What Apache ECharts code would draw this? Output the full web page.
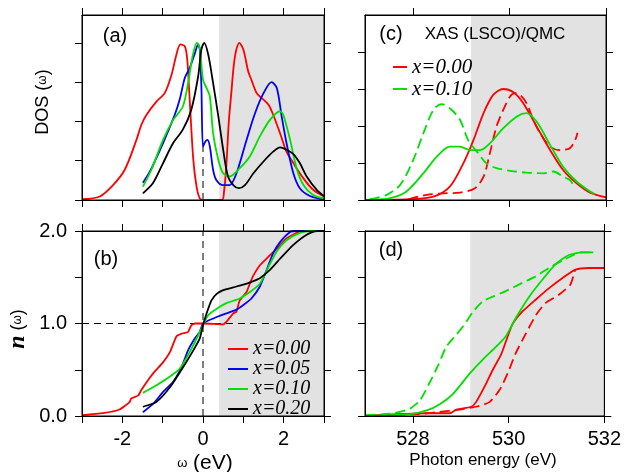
<!DOCTYPE html>
<html><head><meta charset="utf-8">
<script src="https://cdn.jsdelivr.net/npm/echarts@6/dist/echarts.min.js"></script>
<style>html,body{margin:0;padding:0;background:#fff}#c{width:624px;height:472px}</style>
</head><body><div id="c"></div>
<script>
// ---------- data ----------
const omegaTicks = [-3, -2, -1, 0, 1, 2, 3];
const omegaLabels = [-2, 0, 2];
const energyTicks = [528, 530, 532];
const dosTicks = [0, 1, 2, 3, 4];
const nLabels = [0, 1, 2];
const xasTicks = [0, 1, 2, 3, 4];
const shadeOmega = [0.4, 3];
const shadeEnergy = [529.2, 532];
const fermiDash = [[0, 0], [0, 1.45]];
const fermiDashB = [[0, 0], [0, 2]];
const halfFillDash = [[-3, 1], [3, 1]];

// (a) DOS
const dos000 = [[-3,0.02],[-2.56,0.09],[-2.23,0.38],[-1.94,0.77],[-1.65,1.53],[-1.53,1.91],[-1.40,2.17],[-1.15,2.51],[-0.95,2.72],[-0.78,3.19],[-0.66,3.70],[-0.56,3.96],[-0.45,3.91],[-0.39,3.57],[-0.33,2.55],[-0.24,1.02],[-0.16,0.34],[-0.08,0.04],[0,0],[0.47,0],[0.52,0.2],[0.58,0.9],[0.64,2.0],[0.70,2.7],[0.76,3.4],[0.82,3.8],[0.90,4.0],[1.00,3.83],[1.12,3.28],[1.20,3.06],[1.33,2.72],[1.45,2.60],[1.62,2.43],[1.74,2.17],[1.91,1.70],[2.07,1.23],[2.24,0.94],[2.49,0.55],[2.73,0.26],[3.0,0.09]];
const dos005 = [[-1.49,0.44],[-1.32,0.72],[-0.99,1.45],[-0.70,2.17],[-0.58,2.55],[-0.45,3.11],[-0.33,3.36],[-0.20,3.74],[-0.12,3.96],[-0.08,3.83],[-0.04,2.89],[0.0,1.36],[0.06,1.49],[0.11,1.53],[0.17,1.36],[0.25,0.77],[0.33,0.51],[0.50,0.38],[0.66,0.38],[0.83,0.68],[1.08,1.53],[1.29,2.21],[1.50,2.72],[1.70,3.0],[1.83,2.85],[1.95,2.13],[2.07,1.45],[2.24,0.68],[2.40,0.30],[2.65,0.10],[2.90,0.03],[3.0,0.02]];
const dos010 = [[-1.49,0.34],[-1.28,0.77],[-0.99,1.53],[-0.74,2.04],[-0.50,2.38],[-0.37,2.98],[-0.25,3.70],[-0.15,4.0],[-0.08,3.87],[0.0,3.06],[0.09,2.85],[0.17,2.64],[0.25,1.70],[0.38,1.02],[0.50,0.68],[0.66,0.60],[0.91,0.81],[1.16,1.11],[1.41,1.62],[1.66,2.04],[1.91,2.26],[1.99,2.17],[2.16,1.53],[2.32,0.81],[2.49,0.38],[2.73,0.13],[3.0,0.04]];
const dos020 = [[-1.49,0.17],[-1.24,0.43],[-0.99,0.94],[-0.74,1.45],[-0.50,1.79],[-0.29,2.30],[-0.12,3.15],[-0.04,3.83],[0.03,4.0],[0.13,3.70],[0.25,2.98],[0.38,2.13],[0.50,1.28],[0.62,0.60],[0.75,0.38],[0.89,0.30],[1.04,0.38],[1.25,0.68],[1.50,0.98],[1.74,1.23],[1.91,1.34],[2.07,1.28],[2.24,1.17],[2.40,0.94],[2.57,0.60],[2.82,0.26],[3.0,0.10]];

// (b) n(omega)
const n000 = [[-3,0.01],[-2.48,0.03],[-2.07,0.07],[-1.82,0.15],[-1.78,0.19],[-1.61,0.22],[-1.53,0.28],[-1.36,0.39],[-1.20,0.48],[-0.99,0.58],[-0.82,0.69],[-0.66,0.86],[-0.53,0.89],[-0.37,0.91],[-0.29,0.98],[-0.20,1.0],[0.0,1.0],[0.5,0.99],[0.62,1.04],[0.75,1.11],[0.83,1.13],[0.91,1.25],[1.08,1.34],[1.16,1.43],[1.25,1.52],[1.41,1.63],[1.62,1.72],[1.83,1.81],[2.07,1.92],[2.32,1.98],[2.57,2.0],[3.0,2.0]];
const n005 = [[-1.49,0.04],[-1.24,0.13],[-0.99,0.26],[-0.74,0.37],[-0.53,0.53],[-0.37,0.71],[-0.20,0.84],[-0.08,0.91],[0.0,1.0],[0.17,1.04],[0.34,1.07],[0.58,1.11],[0.83,1.15],[1.0,1.20],[1.20,1.27],[1.41,1.40],[1.58,1.58],[1.74,1.76],[1.91,1.88],[2.16,1.99],[2.32,2.0],[3.0,2.0]];
const n010 = [[-1.49,0.25],[-1.24,0.31],[-0.91,0.40],[-0.58,0.51],[-0.33,0.69],[-0.12,0.87],[0,0.98],[0.13,1.09],[0.34,1.16],[0.58,1.22],[0.91,1.27],[1.16,1.34],[1.41,1.43],[1.62,1.61],[1.83,1.78],[2.07,1.90],[2.40,1.98],[2.65,2.0],[3.0,2.0]];
const n020 = [[-1.49,0.10],[-1.16,0.15],[-0.82,0.31],[-0.49,0.53],[-0.24,0.71],[-0.08,0.84],[0,0.98],[0.09,1.11],[0.21,1.25],[0.34,1.32],[0.50,1.36],[0.75,1.39],[1.0,1.42],[1.20,1.45],[1.41,1.49],[1.66,1.58],[1.91,1.70],[2.24,1.85],[2.57,1.96],[2.82,2.0],[3.0,2.0]];

// (c) XAS
const xasQmc000 = [[527,0],[527.93,0.02],[528.42,0.09],[528.76,0.36],[529.04,0.99],[529.25,1.62],[529.46,2.35],[529.66,2.84],[529.87,3.0],[530.08,2.91],[530.28,2.62],[530.56,1.99],[530.84,1.35],[531.11,0.81],[531.39,0.45],[531.67,0.20],[532,0.07]];
const xasExp000 = [[527.9,0.02],[528.28,0.14],[528.63,0.18],[528.97,0.20],[529.28,0.32],[529.46,0.63],[529.59,1.26],[529.73,1.99],[529.87,2.44],[530.01,2.80],[530.11,2.89],[530.22,2.84],[530.35,2.62],[530.49,2.17],[530.63,1.81],[530.84,1.44],[531.05,1.35],[531.25,1.40],[531.36,1.62],[531.41,1.82]];
const xasQmc010 = [[527,0],[527.52,0.05],[527.86,0.23],[528.21,0.72],[528.49,1.17],[528.76,1.44],[528.97,1.44],[529.18,1.35],[529.39,1.35],[529.59,1.53],[529.87,1.94],[530.15,2.26],[530.35,2.35],[530.56,2.12],[530.84,1.49],[531.11,0.90],[531.39,0.50],[531.67,0.23],[531.77,0.16]];
const xasExp010 = [[527.1,0.02],[527.45,0.14],[527.73,0.41],[528.0,1.08],[528.21,1.80],[528.42,2.44],[528.59,2.59],[528.76,2.48],[528.97,2.17],[529.14,1.62],[529.35,1.26],[529.52,0.99],[529.73,0.86],[530.01,0.79],[530.35,0.74],[530.70,0.72],[530.91,0.77],[531.11,0.63],[531.25,0.54],[531.32,0.41]];

// (d) integrated XAS
const intQmc000 = [[527,0],[528.29,0.03],[528.77,0.03],[528.91,0.07],[529.22,0.10],[529.32,0.15],[529.53,0.35],[529.67,0.50],[529.84,0.66],[529.94,0.80],[530.08,0.99],[530.29,1.13],[530.57,1.26],[530.84,1.38],[531.12,1.49],[531.39,1.58],[531.67,1.60],[532,1.60]];
const intExp000 = [[527,0],[528.08,0.02],[528.50,0.04],[528.98,0.07],[529.32,0.10],[529.60,0.15],[529.81,0.28],[529.98,0.46],[530.15,0.68],[530.36,0.89],[530.57,1.09],[530.77,1.22],[531.05,1.31],[531.29,1.42],[531.39,1.58]];
const intQmc010 = [[527,0],[527.94,0.02],[528.29,0.06],[528.57,0.13],[528.84,0.24],[529.19,0.46],[529.46,0.61],[529.74,0.75],[529.94,0.86],[530.15,1.06],[530.43,1.29],[530.70,1.47],[530.98,1.64],[531.26,1.74],[531.53,1.77],[531.77,1.77]];
const intExp010 = [[527.01,0.01],[527.6,0.03],[527.94,0.08],[528.15,0.17],[528.36,0.37],[528.53,0.55],[528.70,0.75],[528.91,0.88],[529.08,0.99],[529.26,1.13],[529.46,1.24],[529.67,1.29],[529.94,1.35],[530.29,1.44],[530.57,1.51],[530.84,1.60],[531.12,1.68],[531.39,1.75],[531.53,1.77],[531.77,1.77]];

// ---------- styling ----------
const SANS = '"Liberation Sans", Arial, sans-serif';
const SERIF = '"Liberation Serif", "Times New Roman", serif';
const RED = '#ff0000', BLUE = '#0000ff', GREEN = '#00e000', BLACK = '#000000';
const GRAY = '#e2e2e2';

function gridBox(left, top, width, height) {
  return {left: left, top: top, width: width, height: height, z: 10,
    show: true, borderColor: '#000', borderWidth: 1, backgroundColor: 'transparent'};
}
const grids = [
  gridBox(82, 15, 242, 185),
  gridBox(82, 231, 242, 185),
  gridBox(365, 15, 241, 185),
  gridBox(365, 231, 241, 185)
];

function ax(type, grid, pos, min, max, ticks, labels, fmt) {
  const a = {
    type: 'value', gridIndex: grid, position: pos, min: min, max: max, z: 10,
    axisLine: {show: true, onZero: false, lineStyle: {color: '#000', width: 1}},
    axisTick: {show: true, inside: false, length: 7, lineStyle: {color: '#000', width: 1}, customValues: ticks},
    axisLabel: {show: false},
    splitLine: {show: false}
  };
  if (labels) {
    a.axisLabel = {show: true, customValues: labels, color: '#000', fontFamily: SANS, fontSize: 20,
      margin: type === 'x' ? 13 : 15, formatter: fmt || (v => String(v))};
  }
  return a;
}

const xAxes = [
  ax('x', 0, 'bottom', -3, 3, omegaTicks),
  ax('x', 0, 'top', -3, 3, omegaTicks),
  ax('x', 1, 'bottom', -3, 3, omegaTicks, omegaLabels, v => (v < 0 ? '-' : '') + Math.abs(v)),
  ax('x', 1, 'top', -3, 3, omegaTicks),
  ax('x', 2, 'bottom', 527, 532, energyTicks),
  ax('x', 2, 'top', 527, 532, energyTicks),
  ax('x', 3, 'bottom', 527, 532, energyTicks, energyTicks),
  ax('x', 3, 'top', 527, 532, energyTicks)
];
const nTicks = [0, 0.5, 1, 1.5, 2];
const yMax = [4.71, 2, 5, 2];
const yAxes = [
  ax('y', 0, 'left', 0, yMax[0], dosTicks),
  ax('y', 0, 'right', 0, yMax[0], dosTicks),
  ax('y', 1, 'left', 0, yMax[1], nTicks, nLabels, v => v.toFixed(1)),
  ax('y', 1, 'right', 0, yMax[1], nTicks),
  ax('y', 2, 'left', 0, yMax[2], xasTicks),
  ax('y', 2, 'right', 0, yMax[2], xasTicks),
  ax('y', 3, 'left', 0, yMax[3], nTicks),
  ax('y', 3, 'right', 0, yMax[3], nTicks)
];

// gray shaded band (markArea on an empty helper series), kept just inside the frame
function shade(axIdx, range, top) {
  return {
    type: 'line', xAxisIndex: axIdx, yAxisIndex: axIdx, data: [], z: -1, silent: true,
    markArea: {silent: true, itemStyle: {color: GRAY, opacity: 1},
      data: [[{xAxis: range[0], yAxis: 0}, {xAxis: range[1] - (range[1] - range[0]) * 0.005, yAxis: top * 0.995}]]}
  };
}
function curve(name, axIdx, data, color, dashed, smooth) {
  return {
    type: 'line', name: name, xAxisIndex: axIdx, yAxisIndex: axIdx, data: data,
    showSymbol: false, symbol: 'none', smooth: smooth === undefined ? 0.3 : smooth, z: 3,
    lineStyle: {color: color, width: 1.8, type: dashed ? [10, 5] : 'solid'},
    itemStyle: {color: color}, animation: false
  };
}
function dash(axIdx, data) {
  return {
    type: 'line', xAxisIndex: axIdx, yAxisIndex: axIdx, data: data, symbol: 'none', z: 2, silent: true,
    lineStyle: {color: '#000', width: 1, type: [7, 5]}, animation: false
  };
}

const series = [
  shade(0, shadeOmega, yMax[0]), shade(2, shadeOmega, yMax[1]),
  shade(4, shadeEnergy, yMax[2]), shade(6, shadeEnergy, yMax[3]),
  dash(0, fermiDash), dash(2, fermiDashB), dash(2, halfFillDash),
  curve('x=0.00', 0, dos000, RED), curve('x=0.05', 0, dos005, BLUE),
  curve('x=0.10', 0, dos010, GREEN), curve('x=0.20', 0, dos020, BLACK),
  curve('x=0.00', 2, n000, RED, false, 0.15), curve('x=0.05', 2, n005, BLUE, false, 0.2),
  curve('x=0.10', 2, n010, GREEN, false, 0.2), curve('x=0.20', 2, n020, BLACK, false, 0.2),
  curve('x=0.00', 4, xasQmc000, RED), curve('exp 0.00', 4, xasExp000, RED, true),
  curve('x=0.10', 4, xasQmc010, GREEN), curve('exp 0.10', 4, xasExp010, GREEN, true),
  curve('x=0.00', 6, intQmc000, RED, false, 0.2), curve('exp 0.00', 6, intExp000, RED, true, 0.2),
  curve('x=0.10', 6, intQmc010, GREEN, false, 0.2), curve('exp 0.10', 6, intExp010, GREEN, true, 0.2)
];

const legendText = {fontFamily: SERIF, fontStyle: 'italic', fontSize: 20, color: '#000'};
const legends = [
  {data: ['x=0.00', 'x=0.05', 'x=0.10', 'x=0.20'], orient: 'vertical', left: 223, top: 334,
   icon: 'rect', itemWidth: 20, itemHeight: 2, itemGap: 0, itemTextGap: 9, selectedMode: false,
   textStyle: Object.assign({lineHeight: 19}, legendText)},
  {data: ['x=0.00', 'x=0.10'], orient: 'vertical', left: 388, top: 51,
   icon: 'rect', itemWidth: 14, itemHeight: 2, itemGap: 0, itemTextGap: 5, selectedMode: false,
   textStyle: Object.assign({lineHeight: 22}, legendText, {fontSize: 21})}
];

function txt(x, y, text, font, rot, rich) {
  return {type: 'text', x: x, y: y, rotation: rot || 0, z: 10,
    style: {text: text, font: font, fill: '#000', align: 'center', verticalAlign: 'middle', rich: rich}};
}
const graphic = [
  txt(115, 36, '(a)', '20px ' + SANS),
  txt(106, 259, '(b)', '20px ' + SANS),
  txt(391, 34, '(c)', '20px ' + SANS),
  txt(495, 34, 'XAS (LSCO)/QMC', '17px ' + SANS),
  txt(391, 250, '(d)', '20px ' + SANS),
  txt(483, 460, 'Photon energy (eV)', '17px ' + SANS),
  txt(205, 463, '{w|ω} {t|(eV)}', '20px ' + SANS, 0,
      {w: {fontFamily: SANS, fontSize: 13, fill: '#000'}, t: {fontFamily: SANS, fontSize: 21, fill: '#000'}}),
  txt(43, 102, '{t|DOS (}{w|ω}{t|)}', '18px ' + SANS, Math.PI / 2,
      {w: {fontFamily: SANS, fontSize: 12, fill: '#000'}, t: {fontFamily: SANS, fontSize: 18, fill: '#000'}}),
  txt(18, 329, '{n|n} {t|(}{w|ω}{t|)}', '18px ' + SANS, Math.PI / 2,
      {n: {fontFamily: SERIF, fontStyle: 'italic', fontWeight: 'bold', fontSize: 24, fill: '#000'},
       w: {fontFamily: SANS, fontSize: 12, fill: '#000'}, t: {fontFamily: SANS, fontSize: 18, fill: '#000'}})
];

const chart = echarts.init(document.getElementById('c'), null, {renderer: 'canvas'});
chart.setOption({
  animation: false,
  backgroundColor: '#fff',
  grid: grids,
  xAxis: xAxes,
  yAxis: yAxes,
  legend: legends,
  series: series,
  graphic: graphic
});
</script></body></html>
